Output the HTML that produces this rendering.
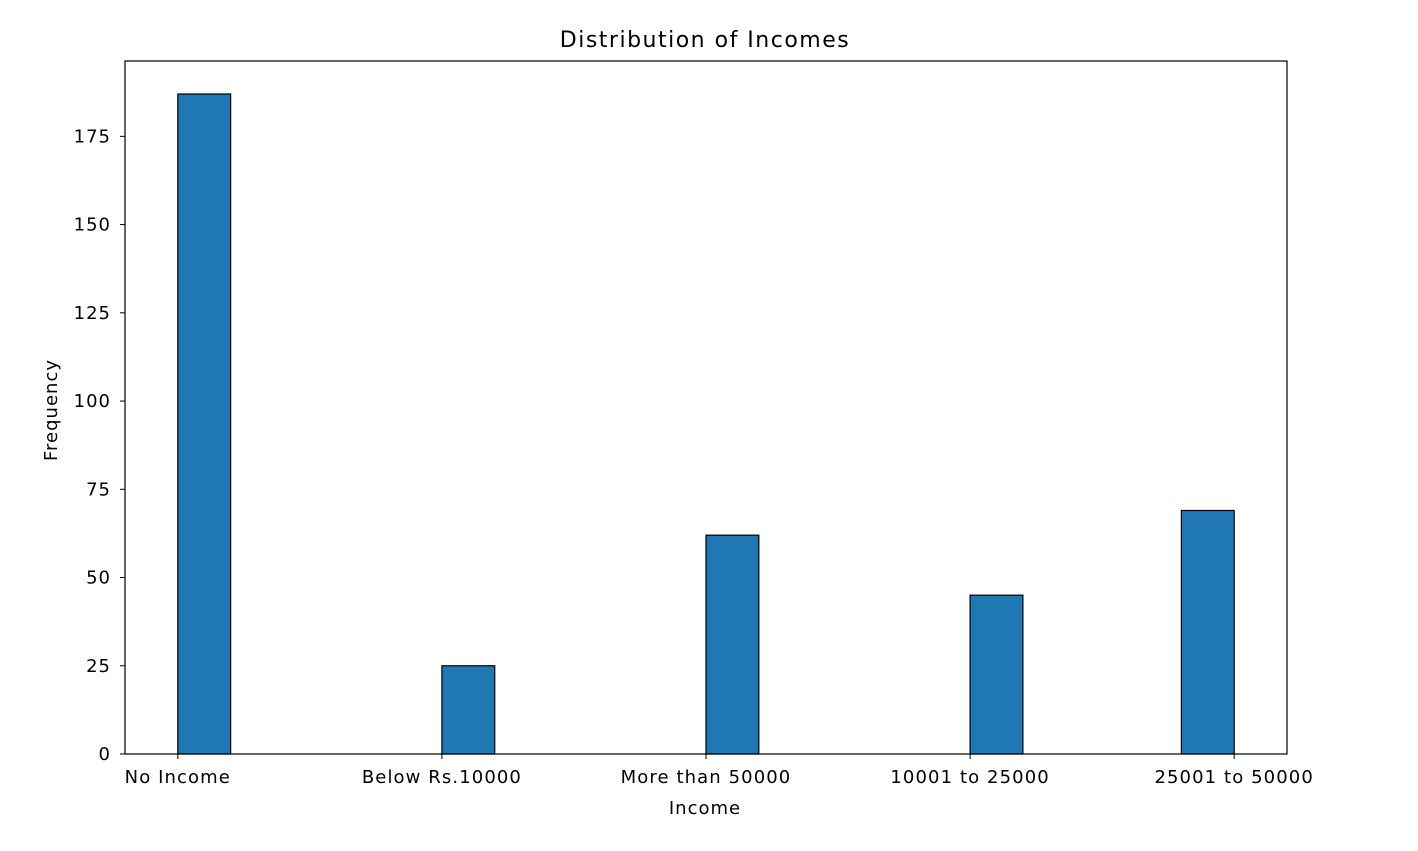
<!DOCTYPE html>
<html><head><meta charset="utf-8"><style>
body{margin:0;background:#fff;}
svg text{font-family:"DejaVu Sans","Liberation Sans",sans-serif;fill:#000;}
</style></head><body>
<svg id="chart" width="1418" height="846">
<text x="705" y="47" font-size="22" letter-spacing="1.5" text-anchor="middle">Distribution of Incomes</text>
<text x="705" y="814" font-size="18" letter-spacing="1" text-anchor="middle">Income</text>
<text transform="translate(57,410) rotate(-90)" font-size="18" letter-spacing="1" text-anchor="middle">Frequency</text>
<g id="bars"></g><g id="axes"></g>
</svg>
<script>
const categories=["No Income","Below Rs.10000","More than 50000","10001 to 25000","25001 to 50000"];
const counts=[187,25,62,45,69];
const binOffsets=[0,0,0,0,-0.2];
const yTicks=[0,25,50,75,100,125,150,175];
const L=125,R=1287,T=61,B=754;
const xMin=-0.2,xMax=4.2,yMax=Math.max(...counts)*1.05;
const xs=v=>L+(v-xMin)/(xMax-xMin)*(R-L);
const ys=v=>B-v/yMax*(B-T);
const NS="http://www.w3.org/2000/svg";
function mk(t,a,p){const e=document.createElementNS(NS,t);for(const k in a)e.setAttribute(k,a[k]);p.appendChild(e);return e;}
const bars=document.getElementById('bars'),axes=document.getElementById('axes');
counts.forEach((c,i)=>{
 const x0=xs(i+binOffsets[i]),x1=xs(i+binOffsets[i]+0.2);
 const r=mk('rect',{x:x0,y:ys(c),width:x1-x0,height:B-ys(c),fill:'#1f77b4',stroke:'#000','stroke-width':1.2},bars);
 
 
});
const frame=mk('rect',{x:L,y:T,width:R-L,height:B-T,fill:'none',stroke:'#000','stroke-width':1.2},axes);


yTicks.forEach(v=>{
 const y=ys(v);
 mk('line',{x1:L-5,x2:L,y1:y,y2:y,stroke:'#000'},axes);
 const t=mk('text',{x:L-14,y:y+6,'font-size':18,'letter-spacing':1,'text-anchor':'end'},axes);t.textContent=v;
 
 
});
categories.forEach((c,i)=>{
 const x=xs(i);
 mk('line',{x1:x,x2:x,y1:B,y2:B+5,stroke:'#000'},axes);
 const t=mk('text',{x:x,y:B+29,'font-size':18,'letter-spacing':1.1,'text-anchor':'middle'},axes);t.textContent=c;
 
 
});
</script>
</body></html>
